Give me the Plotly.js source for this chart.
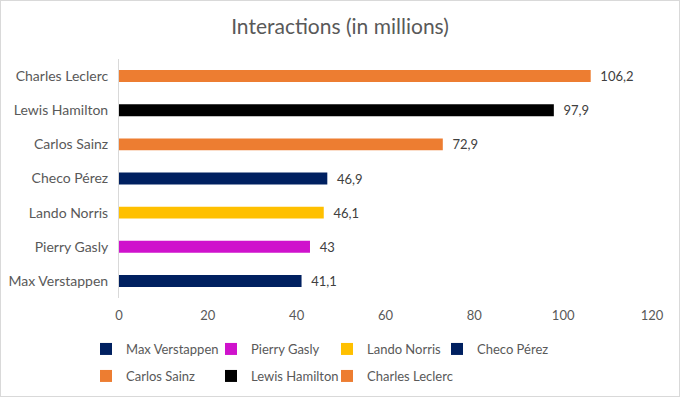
<!DOCTYPE html>
<html>
<head>
<meta charset="utf-8">
<script src="https://cdn.plot.ly/plotly-3.0.1.min.js"></script>
<style>
  html, body { margin: 0; padding: 0; background: #fff; }
  #wrap { position: relative; width: 680px; height: 397px; }
  #chart { width: 680px; height: 397px; }
  #frame { position: absolute; left: 0; top: 0; width: 680px; height: 397px; box-sizing: border-box; border: 1px solid #d9d9d9; pointer-events: none; }
</style>
</head>
<body>
<div id="wrap"><div id="chart"></div><div id="frame"></div></div>
<script>
// Data (legend / drawing order, bottom to top)
const drivers = ['Max Verstappen', 'Pierry Gasly', 'Lando Norris', 'Checo Pérez', 'Carlos Sainz', 'Lewis Hamilton', 'Charles Leclerc'];
const interactions = [41.1, 43, 46.1, 46.9, 72.9, 97.9, 106.2];
const colors = ['#002060', '#CF12CC', '#FFC000', '#002060', '#ED7D31', '#000000', '#ED7D31'];
const xTicks = [0, 20, 40, 60, 80, 100, 120];

const FONT = 'Lato, "Liberation Sans", sans-serif';
const GRAY = '#595959';

// Legend entry layout (4 per row, two rows), pixel positions of entry text
const legendCols = [126, 251, 367, 477];
const legendRows = [349, 376];

const legendIds = drivers.map((_, i) => i === 0 ? 'legend' : 'legend' + (i + 1));

const traces = drivers.map((name, i) => ({
  type: 'bar',
  orientation: 'h',
  name: name,
  y: [name],
  x: [interactions[i]],
  text: [String(interactions[i]).replace('.', ',')],
  texttemplate: '\u00a0\u00a0%{text}',
  textposition: 'outside',
  constraintext: 'none',
  cliponaxis: false,
  textfont: { family: FONT, size: 13, color: '#404040' },
  marker: { color: colors[i] },
  hoverinfo: 'x+name',
  legend: legendIds[i]
}));

const layout = {
  width: 680,
  height: 397,
  margin: { l: 119, r: 28, t: 59, b: 99 },
  paper_bgcolor: '#fff',
  plot_bgcolor: '#fff',
  barmode: 'relative',
  bargap: 0.65,
  showlegend: true,
  title: {
    text: 'Interactions (in millions)',
    font: { family: FONT, size: 21, color: GRAY },
    x: 0.5, xanchor: 'center',
    y: 1 - 27 / 397, yanchor: 'middle', yref: 'container'
  },
  xaxis: {
    range: [0, 120],
    tickvals: xTicks,
    ticktext: xTicks.map(String),
    showgrid: false,
    zeroline: false,
    showline: false,
    ticks: '',
    ticklabelstandoff: 8,
    tickfont: { family: FONT, size: 13, color: GRAY },
    fixedrange: true
  },
  yaxis: {
    type: 'category',
    categoryorder: 'array',
    categoryarray: drivers,
    showgrid: false,
    zeroline: false,
    showline: true,
    linecolor: '#d9d9d9',
    linewidth: 1,
    ticks: '',
    ticklabelstandoff: 7,
    tickfont: { family: FONT, size: 14, color: GRAY },
    fixedrange: true
  }
};

legendIds.forEach((id, i) => {
  const col = i % 4, row = Math.floor(i / 4);
  layout[id] = {
    orientation: 'h',
    xref: 'container',
    yref: 'container',
    xanchor: 'left',
    yanchor: 'middle',
    x: (legendCols[col] - 40) / 680,
    y: 1 - legendRows[row] / 397,
    font: { family: FONT, size: 13, color: GRAY },
    itemwidth: 30,
    bgcolor: 'rgba(0,0,0,0)'
  };
});

Plotly.newPlot('chart', traces, layout, { displayModeBar: false });
</script>
</body>
</html>
